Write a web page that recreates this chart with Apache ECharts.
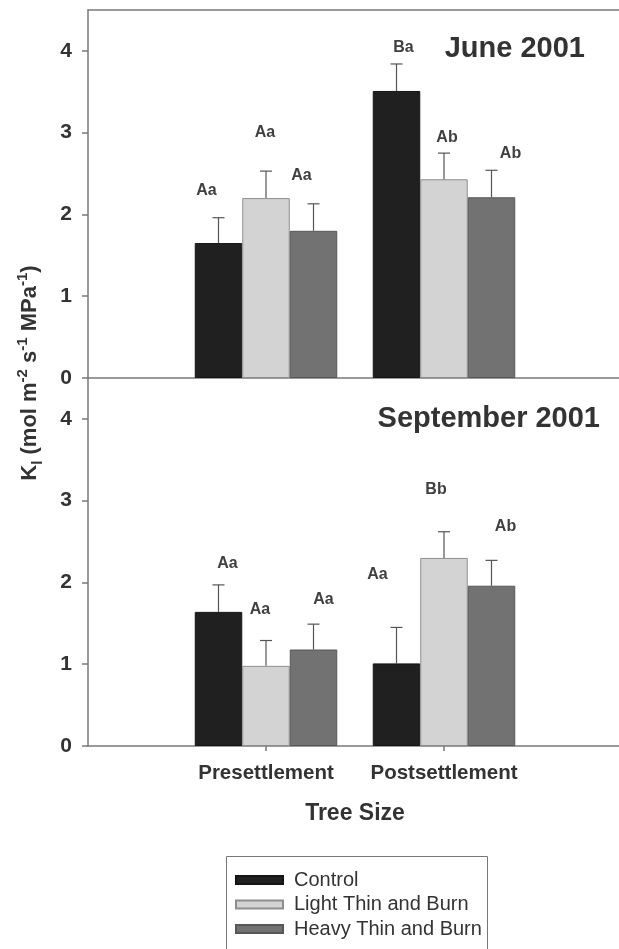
<!DOCTYPE html>
<html>
<head>
<meta charset="utf-8">
<script src="https://cdn.jsdelivr.net/npm/echarts@6/dist/echarts.min.js"></script>
<style>
  html, body { margin: 0; padding: 0; background: #fff; }
  #chart { width: 619px; height: 949px; }
</style>
</head>
<body>
<div id="chart"></div>
<script>
// ---- data ----
const categories = ['', 'Presettlement', 'Postsettlement', ''];
const treatments = ['Control', 'Light Thin and Burn', 'Heavy Thin and Burn'];
const yTickValues = [0, 1, 2, 3, 4];

// June 2001 (mean and standard error per tree size)
const juneControl = [1.65, 3.51];
const juneControlSE = [0.31, 0.33];
const juneLight = [2.20, 2.43];
const juneLightSE = [0.33, 0.32];
const juneHeavy = [1.80, 2.21];
const juneHeavySE = [0.33, 0.33];
const juneControlLetters = ['Aa', 'Ba'];
const juneLightLetters = ['Aa', 'Ab'];
const juneHeavyLetters = ['Aa', 'Ab'];
const juneControlLetterAt = [2.29, 4.04];
const juneLightLetterAt = [3.00, 2.94];
const juneHeavyLetterAt = [2.47, 2.74];

// September 2001
const sepControl = [1.64, 1.01];
const sepControlSE = [0.33, 0.44];
const sepLight = [0.98, 2.30];
const sepLightSE = [0.31, 0.32];
const sepHeavy = [1.18, 1.96];
const sepHeavySE = [0.31, 0.31];
const sepControlLetters = ['Aa', 'Aa'];
const sepLightLetters = ['Aa', 'Bb'];
const sepHeavyLetters = ['Aa', 'Ab'];
const sepControlLetterAt = [2.23, 2.10];
const sepLightLetterAt = [1.67, 3.14];
const sepHeavyLetterAt = [1.79, 2.68];

// ---- layout & style ----
const FONT = "'Liberation Sans', Arial, Helvetica, sans-serif";
const TEXT = '#333';
const AXIS = '#7a7a7a';
const BAR_W = 47.5;
const fills = ['#202020', '#d3d3d3', '#727272'];
const borders = ['#141414', '#8e8e8e', '#575757'];
// horizontal nudges (px) of the significance letters
const juneNudge = [[-12, 7], [-1, 3], [-12, 19]];
const sepNudge = [[9, -19], [-6, -8], [10, 14]];

const chart = echarts.init(document.getElementById('chart'), null, { renderer: 'canvas' });

function pairs(values) { return values.map((v, i) => [i + 1, v]); }

function barSeries(k, values, panel) {
  return {
    type: 'bar', name: treatments[k], xAxisIndex: panel * 2, yAxisIndex: panel,
    data: pairs(values), barWidth: BAR_W, barGap: '0%',
    itemStyle: { color: fills[k], borderColor: borders[k], borderWidth: 1 },
    z: 2, silent: true
  };
}

function errorSeries(k, mean, se, letters, letterAt, nudge, panel) {
  return {
    type: 'custom', name: 'err' + panel + k, xAxisIndex: panel * 2, yAxisIndex: panel,
    coordinateSystem: 'cartesian2d', silent: true, z: 5,
    data: mean.map((v, i) => [i + 1, v + se[i]]),
    renderItem: function (params, api) {
      const i = params.dataIndex;
      const base = api.coord([i + 1, mean[i]]);
      const x = base[0] + (k - 1) * BAR_W;
      const yTop = api.coord([i + 1, mean[i] + se[i]])[1];
      const yL = api.coord([i + 1, letterAt[i]])[1];
      const ls = { stroke: '#555', lineWidth: 1.2 };
      return {
        type: 'group',
        children: [
          { type: 'line', shape: { x1: x, y1: base[1], x2: x, y2: yTop }, style: ls },
          { type: 'line', shape: { x1: x - 6, y1: yTop, x2: x + 6, y2: yTop }, style: ls },
          { type: 'text', x: x + nudge[i], y: yL,
            style: { text: letters[i], fill: '#404040', font: 'bold 16px ' + FONT,
                     align: 'center', verticalAlign: 'middle' } }
        ]
      };
    }
  };
}

function yAxis(panel) {
  return {
    type: 'value', gridIndex: panel, min: 0, max: 4.5, interval: 1,
    axisLine: { show: true, lineStyle: { color: AXIS, width: 1.5 } },
    axisTick: { show: true, length: 6, customValues: yTickValues, lineStyle: { color: AXIS, width: 1.5 } },
    axisLabel: { customValues: yTickValues, color: TEXT, fontFamily: FONT, fontWeight: 'bold',
                 fontSize: 21, margin: 16 },
    splitLine: { show: false }
  };
}

const option = {
  animation: false,
  backgroundColor: '#fff',
  textStyle: { fontFamily: FONT },
  grid: [
    { left: 88, width: 534, top: 10, height: 368, outerBoundsMode: 'none', containLabel: false },
    { left: 88, width: 534, top: 378, height: 368, outerBoundsMode: 'none', containLabel: false }
  ],
  xAxis: [
    { type: 'category', gridIndex: 0, data: categories, boundaryGap: false,
      axisLine: { show: true, lineStyle: { color: AXIS, width: 1.5 } },
      axisTick: { show: false }, axisLabel: { show: false } },
    { type: 'category', gridIndex: 0, data: categories, boundaryGap: false, position: 'top',
      axisLine: { show: true, lineStyle: { color: AXIS, width: 1.5 } },
      axisTick: { show: false }, axisLabel: { show: false } },
    { type: 'category', gridIndex: 1, data: categories, boundaryGap: false,
      axisLine: { show: true, lineStyle: { color: AXIS, width: 1.5 } },
      axisTick: { show: true, length: 5, interval: (i) => i === 1 || i === 2,
                  lineStyle: { color: AXIS, width: 1.5 } },
      axisLabel: { interval: 0, color: TEXT, fontFamily: FONT, fontWeight: 'bold', fontSize: 20.5, margin: 17 },
      name: 'Tree Size', nameLocation: 'middle', nameGap: 56,
      nameTextStyle: { color: TEXT, fontFamily: FONT, fontWeight: 'bold', fontSize: 23 } }
  ],
  yAxis: [yAxis(0), yAxis(1)],
  title: [
    { text: 'June 2001', right: 34, top: 34, padding: 0,
      textStyle: { color: TEXT, fontFamily: FONT, fontWeight: 'bold', fontSize: 29 } },
    { text: 'September 2001', right: 19, top: 404, padding: 0,
      textStyle: { color: TEXT, fontFamily: FONT, fontWeight: 'bold', fontSize: 29 } }
  ],
  legend: {
    data: treatments, orient: 'vertical', left: 226, top: 856,
    padding: [14, 12, 0, 9], itemGap: 4.5, itemWidth: 47, itemHeight: 8,
    icon: 'rect', selectedMode: false,
    textStyle: { color: TEXT, fontFamily: FONT, fontSize: 20, padding: [0, 0, 0, 6] }
  },
  graphic: [
    // legend frame, running past the bottom edge
    { type: 'rect', shape: { x: 226.5, y: 856.5, width: 261, height: 120 }, silent: true,
      style: { fill: 'none', stroke: '#777', lineWidth: 1 } },
    { type: 'text', x: 30, y: 373, rotation: Math.PI / 2,
      style: {
        text: '{m|K}{sub|l}{m| (mol m}{sup|-2}{m| s}{sup|-1}{m| MPa}{sup|-1}{m|)}',
        align: 'center', verticalAlign: 'middle', fill: TEXT,
        rich: {
          m: { fontFamily: FONT, fontWeight: 'bold', fontSize: 22, lineHeight: 30, fill: TEXT, verticalAlign: 'middle' },
          sup: { fontFamily: FONT, fontWeight: 'bold', fontSize: 15, lineHeight: 30, fill: TEXT, verticalAlign: 'top' },
          sub: { fontFamily: FONT, fontWeight: 'bold', fontSize: 15, lineHeight: 30, fill: TEXT, verticalAlign: 'bottom' }
        }
      } }
  ],
  series: [
    barSeries(0, juneControl, 0),
    barSeries(1, juneLight, 0),
    barSeries(2, juneHeavy, 0),
    barSeries(0, sepControl, 1),
    barSeries(1, sepLight, 1),
    barSeries(2, sepHeavy, 1),
    errorSeries(0, juneControl, juneControlSE, juneControlLetters, juneControlLetterAt, juneNudge[0], 0),
    errorSeries(1, juneLight, juneLightSE, juneLightLetters, juneLightLetterAt, juneNudge[1], 0),
    errorSeries(2, juneHeavy, juneHeavySE, juneHeavyLetters, juneHeavyLetterAt, juneNudge[2], 0),
    errorSeries(0, sepControl, sepControlSE, sepControlLetters, sepControlLetterAt, sepNudge[0], 1),
    errorSeries(1, sepLight, sepLightSE, sepLightLetters, sepLightLetterAt, sepNudge[1], 1),
    errorSeries(2, sepHeavy, sepHeavySE, sepHeavyLetters, sepHeavyLetterAt, sepNudge[2], 1)
  ]
};

chart.setOption(option);
</script>
</body>
</html>
